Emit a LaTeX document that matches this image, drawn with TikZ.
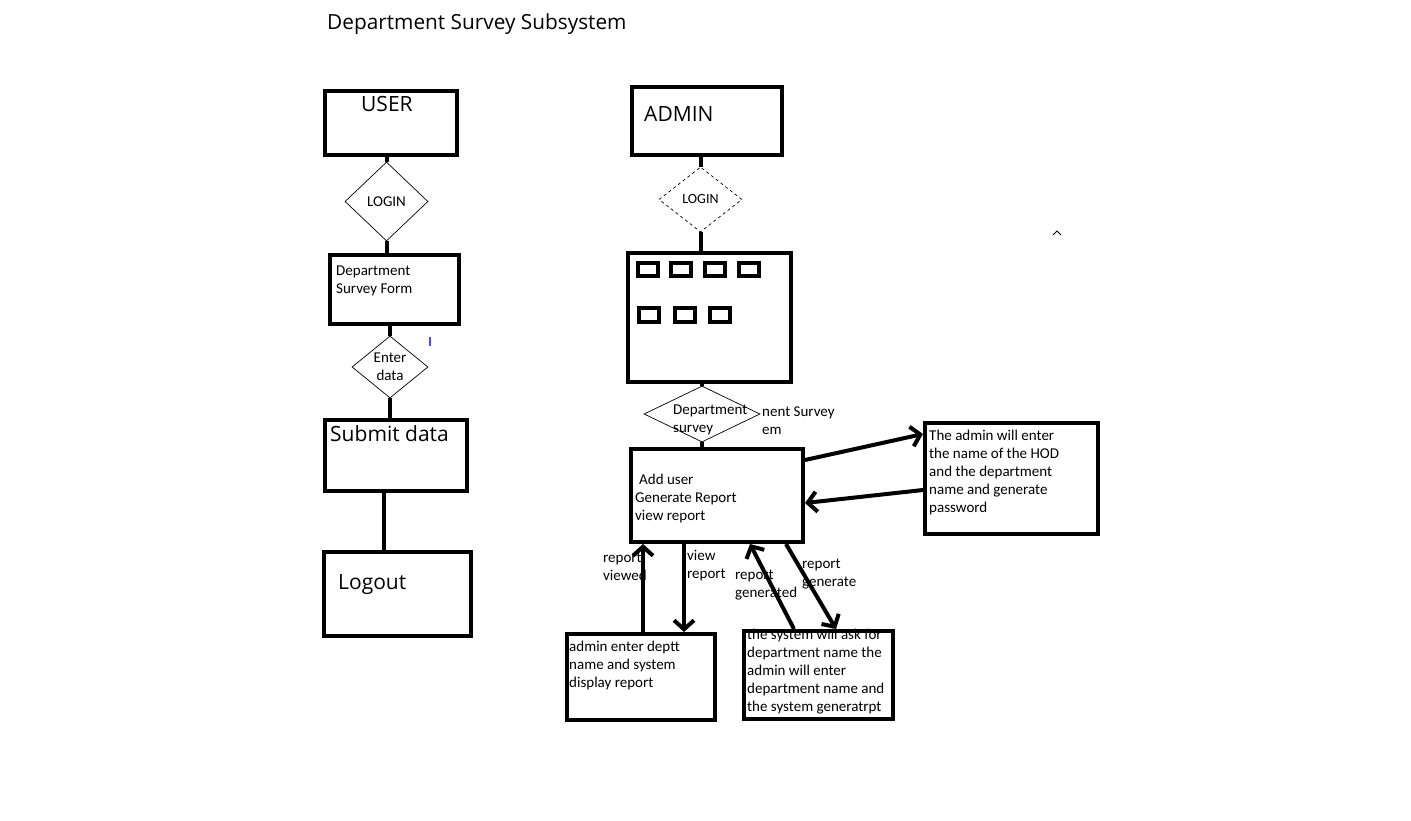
\documentclass[tikz,border=0pt]{standalone}
\usepackage{fontspec}
\setmainfont{Carlito}
\newfontfamily\headfont{Open Sans}
\usetikzlibrary{shapes.geometric}
\usetikzlibrary{arrows.meta}
\pgfdeclarelayer{edgelayer}
\pgfdeclarelayer{nodelayer}
\pgfsetlayers{edgelayer,nodelayer,main}
\tikzstyle{none}=[inner sep=0pt]
\tikzstyle{box}=[draw, rectangle, line width=4pt, inner sep=0pt]
\tikzstyle{decision}=[draw, diamond, line width=0.7pt, inner sep=0pt, align=center, font=\fontsize{15}{18}\selectfont]
\tikzstyle{txt}=[inner sep=0pt, anchor=base west, align=left, font=\fontsize{15}{18}\selectfont]
\tikzstyle{head}=[inner sep=0pt, anchor=base west, font=\headfont\fontsize{21}{25}\selectfont]
\tikzstyle{link}=[line width=4pt]
\tikzstyle{flow}=[line width=4pt, -{Straight Barb[length=9pt,width=20pt]}]

\begin{document}
\begin{tikzpicture}[x=1pt, y=-1pt]
    \useasboundingbox (0, 0) rectangle (1411, 821);
    % texts: y is the baseline of the last line
    \begin{pgfonlayer}{edgelayer}
	\node [style=head, font=\headfont\fontsize{20.8}{24}\selectfont] (title) at (327, 30) {Department Survey Subsystem};
	% user side
	\node [style=head] (tuser) at (361, 111.5) {USER};
	\node [style=txt] (tform) at (336, 293) {Department\\Survey Form};
	\node [style=head] (tsubmit) at (330, 441.5) {Submit data};
	\node [style=head] (tlogout) at (338, 589) {Logout};
	% admin side
	\node [style=head] (tadmin) at (644, 121.5) {ADMIN};
	\node [style=txt] (tdept) at (673, 432) {Department\\survey};
	\node [style=txt] (tcut) at (762, 434) {nent Survey\\em};
	\node [style=txt] (tmain) at (635, 520) {\hspace*{4pt}Add user\\Generate Report\\view report};
	\node [style=txt] (thod) at (929, 512) {The admin will enter\\the name of the HOD\\and the department\\name and generate\\password};
	\node [style=txt] (tview) at (569, 687) {admin enter deptt\\name and system\\display report};
	\node [style=txt] (tgen) at (747, 711) {the system will ask for\\department name the\\admin will enter\\department name and\\the system generatrpt};
	\node [style=txt] (l1) at (603, 580) {report\\viewed};
	\node [style=txt] (l2) at (687, 578) {view\\report};
	\node [style=txt] (l3) at (735, 597) {report\\generated};
	\node [style=txt] (l4) at (802, 586) {report\\generate};
    \end{pgfonlayer}
    \begin{pgfonlayer}{nodelayer}
	\node [style=box, minimum width=132, minimum height=64] (user) at (391, 123) {};
	\node [style=decision, minimum width=83, minimum height=79] (login1) at (386.5, 201.5) {LOGIN};
	\node [style=box, minimum width=129, minimum height=69] (form) at (394.5, 289.5) {};
	\node [style=decision, minimum width=76, minimum height=62] (enter) at (390, 367) {Enter\\data};
	\node [style=box, minimum width=142, minimum height=71] (submit) at (396, 455.5) {};
	\node [style=box, minimum width=147, minimum height=84] (logout) at (397.5, 594) {};
	\node [style=box, minimum width=150, minimum height=68] (admin) at (707, 121) {};
	\node [style=decision, dashed, minimum width=83, minimum height=65, font=\fontsize{14}{16}\selectfont] (login2) at (700.5, 199.5) {LOGIN};
	\node [style=box, minimum width=163, minimum height=129] (panel) at (709.5, 317.5) {};
	\node [style=box, minimum width=20, minimum height=13] (b1) at (648, 269.5) {};
	\node [style=box, minimum width=20, minimum height=13] (b2) at (681, 269.5) {};
	\node [style=box, minimum width=20, minimum height=13] (b3) at (715, 269.5) {};
	\node [style=box, minimum width=20, minimum height=13] (b4) at (749, 269.5) {};
	\node [style=box, minimum width=20, minimum height=14] (b5) at (649, 315) {};
	\node [style=box, minimum width=20, minimum height=14] (b6) at (685, 315) {};
	\node [style=box, minimum width=20, minimum height=14] (b7) at (720, 315) {};
	\node [style=decision, minimum width=116, minimum height=56] (dept) at (702, 414) {};
	\node [style=box, minimum width=172, minimum height=93] (main) at (717, 495.5) {};
	\node [style=box, minimum width=173, minimum height=111] (hod) at (1011.5, 478.5) {};
	\node [style=box, minimum width=148, minimum height=86] (viewbox) at (641, 677) {};
	\node [style=box, minimum width=149, minimum height=88] (genbox) at (818.5, 675) {};
	% user flow
	\draw [style=link] (user.south -| login1.north) to (login1.north);
	\draw [style=link] (login1.south) to (form.north -| login1.south);
	\draw [style=link] (form.south -| enter.north) to (enter.north);
	\draw [style=link] (enter.south) to (submit.north -| enter.south);
	\draw [style=link] (submit.south -| 384, 0) to (logout.north -| 384, 0);
	% admin flow
	\draw [style=link] (admin.south -| login2.north) to (login2.north);
	\draw [style=link] (login2.south) to (panel.north -| login2.south);
	\draw [style=link] (panel.south -| dept.north) to (dept.north);
	\draw [style=link] (dept.south) to (main.north -| dept.south);
	\draw [style=flow] (main.east |- 0, 460) to (hod.west |- 0, 434);
	\draw [style=flow] (hod.west |- 0, 490) to (main.east |- 0, 503);
	\draw [style=flow] (viewbox.north -| 643, 0) to (main.south -| 643, 0);
	\draw [style=flow] (main.south -| 684, 0) to (viewbox.north -| 684, 0);
	\draw [style=flow] (genbox.north -| 794, 0) to (main.south -| 750, 0);
	\draw [style=flow] (main.south -| 786, 0) to (genbox.north -| 836, 0);
	% stray marks
	\draw [line width=1pt] (1053, 235) to (1057, 231) to (1061, 235);
	\draw [line width=1.5pt, color=blue!70] (430, 337) to (430, 346);
    \end{pgfonlayer}
\end{tikzpicture}
\end{document}
